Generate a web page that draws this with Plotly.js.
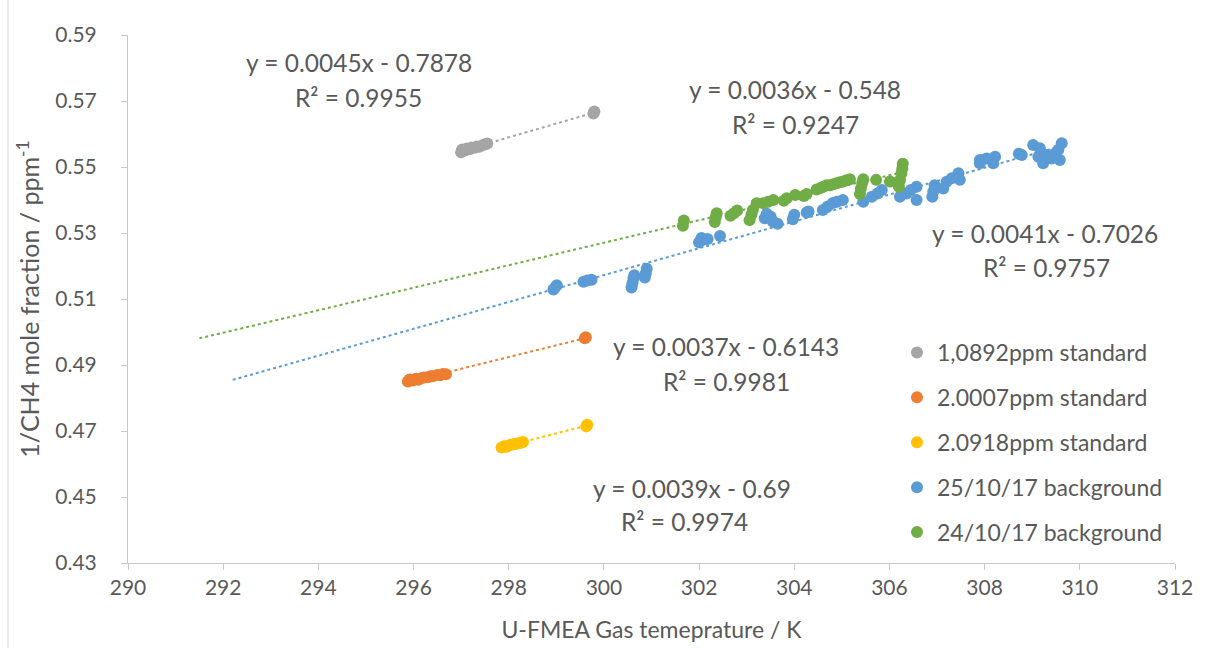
<!DOCTYPE html>
<html>
<head>
<meta charset="utf-8">
<script src="https://cdn.plot.ly/plotly-3.0.1.min.js"></script>
<style>
html,body{margin:0;padding:0;background:#fff;}
#chart{width:1206px;height:648px;}
</style>
</head>
<body>
<div id="chart"></div>
<script>
// ---------- DATA ----------
const seriesNames = ["1,0892ppm standard", "2.0007ppm standard", "2.0918ppm standard", "25/10/17 background", "24/10/17 background"];
const seriesColors = ["#A5A5A5", "#ED7D31", "#FFC000", "#5B9BD5", "#70AD47"];

const grayX = [297.00, 297.02, 297.08, 297.12, 297.18, 297.22, 297.28, 297.33, 297.38, 297.45, 297.50, 297.55, 299.78, 299.80];
const grayY = [0.5545, 0.5553, 0.5550, 0.5556, 0.5554, 0.5559, 0.5558, 0.5562, 0.5561, 0.5566, 0.5569, 0.5571, 0.5662, 0.5668];

const orangeX = [295.88, 295.92, 295.98, 296.05, 296.10, 296.16, 296.22, 296.30, 296.36, 296.42, 296.50, 296.56, 296.62, 296.68, 299.60, 299.62];
const orangeY = [0.4850, 0.4856, 0.4853, 0.4858, 0.4855, 0.4860, 0.4862, 0.4863, 0.4866, 0.4867, 0.4870, 0.4869, 0.4873, 0.4872, 0.4981, 0.4984];

const yellowX = [297.85, 297.90, 297.95, 298.00, 298.05, 298.10, 298.15, 298.20, 298.25, 298.30, 299.63, 299.65];
const yellowY = [0.4650, 0.4654, 0.4652, 0.4656, 0.4658, 0.4660, 0.4661, 0.4663, 0.4664, 0.4667, 0.4714, 0.4719];

const blueX = [298.94, 299.01, 298.98, 299.57, 299.65, 299.74, 300.58, 300.60, 300.62, 300.64, 300.86, 300.88, 300.90,
  302.00, 302.05, 302.10, 302.18, 302.44, 303.38, 303.42, 303.50, 303.55, 303.65, 303.97, 304.00, 304.26, 304.30,
  304.60, 304.70, 304.81, 304.90, 305.02, 305.45, 305.63, 305.75, 305.84, 306.22, 306.36, 306.45, 306.57, 306.57,
  306.90, 306.92, 306.95, 307.20, 307.13, 307.31, 307.45, 307.48, 307.90, 308.04, 308.22, 307.90, 308.18, 308.78, 308.72,
  309.02, 309.16, 309.13, 309.23, 309.30, 309.41, 309.48, 309.55, 309.62, 309.58];
const blueY = [0.5129, 0.5142, 0.5136, 0.5152, 0.5156, 0.5158, 0.5135, 0.5148, 0.5162, 0.5172, 0.5165, 0.5178, 0.5192,
  0.5272, 0.5285, 0.5280, 0.5282, 0.5291, 0.5345, 0.5358, 0.5350, 0.5335, 0.5328, 0.5342, 0.5355, 0.5362, 0.5365,
  0.5370, 0.5380, 0.5391, 0.5395, 0.5400, 0.5395, 0.5410, 0.5420, 0.5430, 0.5410, 0.5420, 0.5430, 0.5440, 0.5400,
  0.5410, 0.5425, 0.5445, 0.5455, 0.5435, 0.5466, 0.5481, 0.5461, 0.5521, 0.5526, 0.5531, 0.5511, 0.5511, 0.5536, 0.5540,
  0.5567, 0.5557, 0.5531, 0.5511, 0.5536, 0.5526, 0.5541, 0.5552, 0.5572, 0.5521];

const greenX = [301.66, 301.68, 302.33, 302.35, 302.37, 302.66, 302.73, 302.80, 303.06, 303.10, 303.13, 303.21,
  303.35, 303.45, 303.56, 303.78, 303.84, 304.02, 304.20, 304.26,
  304.47, 304.55, 304.61, 304.68, 304.75, 304.82, 304.89, 304.96, 305.03, 305.10, 305.17,
  305.38, 305.40, 305.43, 305.45, 305.72, 306.01, 306.20, 306.22, 306.25, 306.27, 306.28];
const greenY = [0.5322, 0.5338, 0.5333, 0.5348, 0.5360, 0.5352, 0.5360, 0.5368, 0.5339, 0.5355, 0.5370, 0.5390,
  0.5390, 0.5395, 0.5400, 0.5398, 0.5405, 0.5415, 0.5412, 0.5418,
  0.5432, 0.5436, 0.5440, 0.5445, 0.5445, 0.5448, 0.5451, 0.5454, 0.5456, 0.5460, 0.5463,
  0.5418, 0.5435, 0.5452, 0.5463, 0.5461, 0.5456, 0.5440, 0.5460, 0.5480, 0.5495, 0.5510];

// trendline backward-forecast start (x) for each series; null = start at the first data point
const trendFrom = [null, null, null, 292.2, 291.5];

// trendline labels as shown on the chart
const eqLabels = ["y = 0.0045x - 0.7878", "y = 0.0037x - 0.6143", "y = 0.0039x - 0.69", "y = 0.0041x - 0.7026", "y = 0.0036x - 0.548"];
const r2Labels = ["R² = 0.9955", "R² = 0.9981", "R² = 0.9974", "R² = 0.9757", "R² = 0.9247"];

const xTitle = "U-FMEA Gas temeprature / K";
const yTitle = "1/CH4 mole fraction / ppm<sup>-1</sup>";

// ---------- LAYOUT HELPERS ----------
const W = 1206, H = 648, ML = 128, MR = 31, MT = 35, MB = 85;
const PW = W - ML - MR, PH = H - MT - MB;
const px = v => (v - ML) / PW;
const py = v => (H - MB - v) / PH;

const FONT = "Lato, 'Open Sans', sans-serif";
const TXT = "#595959";

const xs = [grayX, orangeX, yellowX, blueX, greenX];
const ys = [grayY, orangeY, yellowY, blueY, greenY];

function linreg(x, y) {
  const n = x.length;
  let sx = 0, sy = 0, sxx = 0, sxy = 0;
  for (let i = 0; i < n; i++) { sx += x[i]; sy += y[i]; sxx += x[i] * x[i]; sxy += x[i] * y[i]; }
  const a = (n * sxy - sx * sy) / (n * sxx - sx * sx);
  const b = (sy - a * sx) / n;
  return [a, b];
}

const traces = [];
// trendlines (drawn under markers)
for (let k = 0; k < 5; k++) {
  const [a, b] = linreg(xs[k], ys[k]);
  const x0 = trendFrom[k] !== null ? trendFrom[k] : Math.min(...xs[k]);
  const x1 = Math.max(...xs[k]);
  traces.push({
    type: "scatter", mode: "lines", x: [x0, x1], y: [a * x0 + b, a * x1 + b],
    line: { color: seriesColors[k], width: 2, dash: "dot" },
    showlegend: false, hoverinfo: "skip", legendgroup: "g" + k
  });
}
// markers
for (let k = 0; k < 5; k++) {
  traces.push({
    type: "scatter", mode: "markers", x: xs[k], y: ys[k], name: seriesNames[k],
    marker: { color: seriesColors[k], size: 12, line: { width: 0 } },
    legendgroup: "g" + k, legendrank: k + 1
  });
}

// label positions (pixel centres)
const eqPos = [[359, 62], [726, 346], [692, 488], [1045, 233], [795, 90]];
const r2Pos = [[358, 97], [726, 381], [684, 521], [1046, 267], [795, 124]];
const annotations = [];
for (let k = 0; k < 5; k++) {
  annotations.push({ xref: "paper", yref: "paper", x: px(eqPos[k][0]), y: py(eqPos[k][1]), text: eqLabels[k],
    showarrow: false, xanchor: "center", yanchor: "middle", font: { family: FONT, size: 24.5, color: TXT } });
  annotations.push({ xref: "paper", yref: "paper", x: px(r2Pos[k][0]), y: py(r2Pos[k][1]), text: r2Labels[k],
    showarrow: false, xanchor: "center", yanchor: "middle", font: { family: FONT, size: 24.5, color: TXT } });
}

const layout = {
  width: W, height: H,
  margin: { l: ML, r: MR, t: MT, b: MB, pad: 0 },
  paper_bgcolor: "#ffffff", plot_bgcolor: "#ffffff",
  font: { family: FONT, color: TXT },
  showlegend: true,
  legend: {
    x: px(897), y: py(331), xanchor: "left", yanchor: "top",
    font: { family: FONT, size: 23, color: TXT },
    tracegroupgap: 12, bgcolor: "rgba(0,0,0,0)", itemwidth: 30
  },
  xaxis: {
    range: [290, 312], dtick: 2, tick0: 290, showgrid: false, zeroline: false,
    showline: true, linecolor: "#C8C8C8", linewidth: 1,
    ticks: "outside", ticklen: 6, tickcolor: "#C8C8C8", tickwidth: 1,
    tickfont: { family: FONT, size: 21, color: TXT },
    title: { text: xTitle, font: { family: FONT, size: 23, color: TXT }, standoff: 23 },
    automargin: false, fixedrange: true
  },
  yaxis: {
    range: [0.43, 0.59], dtick: 0.02, tick0: 0.43, tickformat: ".2f", showgrid: false, zeroline: false,
    showline: true, linecolor: "#C8C8C8", linewidth: 1,
    ticks: "outside", ticklen: 6, tickcolor: "#C8C8C8", tickwidth: 1,
    ticklabelstandoff: 20,
    tickfont: { family: FONT, size: 21, color: TXT },
    title: { text: yTitle, font: { family: FONT, size: 25, color: TXT }, standoff: 8 },
    automargin: false, fixedrange: true
  },
  annotations: annotations,
  shapes: [
    { type: "line", xref: "paper", yref: "paper", x0: px(8), x1: px(8), y0: py(0), y1: py(H), line: { color: "#D9D9D9", width: 1 } }
  ]
};

Plotly.newPlot("chart", traces, layout, { displayModeBar: false, staticPlot: true });
</script>
</body>
</html>
